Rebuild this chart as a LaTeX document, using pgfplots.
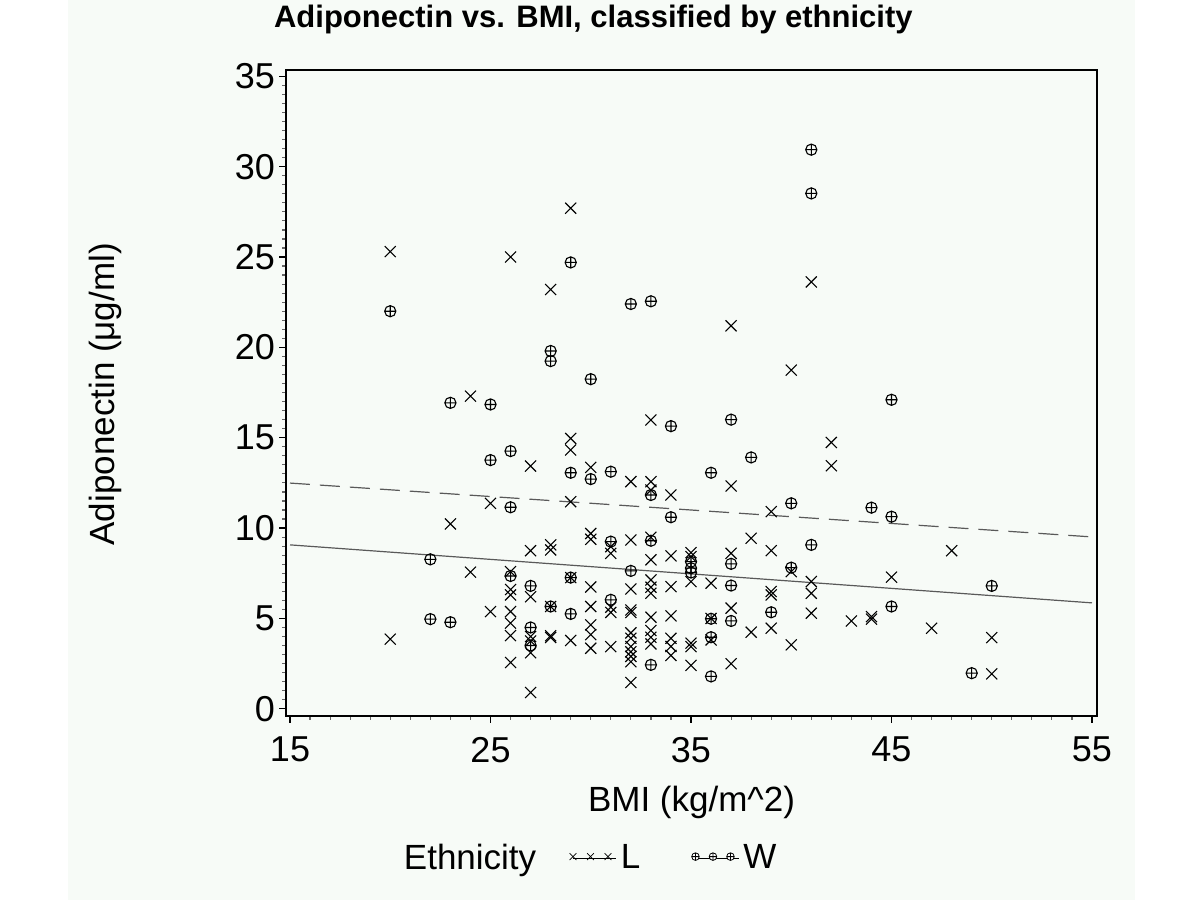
\documentclass[border=0pt]{standalone}
\usepackage{pgfplots}
\pgfplotsset{compat=1.18}
\usepackage{fontspec}
\setmainfont{Liberation Sans}
\definecolor{bgc}{RGB}{247,251,247}
\begin{document}
\begin{tikzpicture}
\path[use as bounding box] (0,0) rectangle (600pt,450pt);
\fill[white] (0,0) rectangle (600pt,450pt);
\fill[bgc] (34pt,0) rectangle (567.5pt,450pt);
\begin{axis}[
  at={(143pt,92pt)}, anchor=south west,
  scale only axis, width=405.5pt, height=323pt,
  xmin=14.8, xmax=55.25, ymin=-0.4, ymax=35.35,
  xtick={15,25,35,45,55}, ytick={0,5,10,15,20,25,30,35},
  minor x tick num=9, minor y tick num=9,
  tick pos=left, tick align=outside,
  major tick length=3.5pt, minor tick length=2pt,
  major tick style={black, line width=0.7pt},
  minor tick style={black!60, line width=0.6pt},
  axis line style={black, line width=1pt},
  /pgf/number format/assume math mode=true,
  ticklabel style={font=\fontsize{18}{21}\selectfont},
  xticklabel style={yshift=-3.5pt},
  yticklabel style={xshift=1.5pt},
  title={\textbf{Adiponectin vs. BMI, classified by ethnicity}},
  title style={font=\fontsize{15.5}{18}\selectfont, at={(0.379,1)}, anchor=base, yshift=15pt},
  xlabel={BMI (kg/m\textasciicircum 2)},
  xlabel style={font=\fontsize{17.5}{20}\selectfont, at={(0.5,0)}, anchor=base, yshift=-48pt},
  ylabel={Adiponectin (μg/ml)},
  ylabel style={font=\fontsize{17.5}{20}\selectfont, at={(-0.223,0.498)}, anchor=center},
  legend columns=3,
  legend style={draw=none, fill=none, at={(0.375,-0.22)}, anchor=center,
    font=\fontsize{17.5}{20}\selectfont,
    /tikz/every even column/.append style={column sep=14.5pt}},
]
\addlegendimage{empty legend}
\addlegendentry{Ethnicity}
\addlegendimage{legend image code/.code={\draw[black!70, line width=0.5pt] (0pt,0pt) -- (17.5pt,0pt);
  \path (0pt,0pt) -- (21.7pt,0pt);
  \foreach \xx in {0,8.75,17.5} {\node[inner sep=0pt] at (\xx pt,0pt) {\tikz\draw[black, line width=0.4pt] (-1.7pt,-1.7pt) -- (1.7pt,1.7pt) (-1.7pt,1.7pt) -- (1.7pt,-1.7pt);};}}}
\addlegendentry{L\rule{9pt}{0pt}}
\addlegendimage{legend image code/.code={\draw[black!70, line width=0.5pt] (0pt,0pt) -- (17.5pt,0pt);
  \path (0pt,0pt) -- (21.7pt,0pt);
  \foreach \xx in {0,8.75,17.5} {\node[inner sep=0pt] at (\xx pt,0pt) {\tikz\draw[black, line width=0.4pt, fill=white] (0,0) circle (1.9pt) (-1.9pt,0) -- (1.9pt,0) (0,-1.9pt) -- (0,1.9pt);};}}}
\addlegendentry{W}

% regression lines
\addplot[black!65, line width=0.6pt, forget plot] coordinates {(15,9.07) (55,5.86)};
\addplot[black!65, line width=0.6pt, dash pattern=on 10pt off 5pt, forget plot] coordinates {(15,12.49) (55,9.51)};

% Ethnicity L
\addplot[only marks, mark=x, mark size=3.9pt, mark options={black, line width=0.55pt}, forget plot] coordinates {
(20,25.3) (20,3.85)
(23,10.23)
(24,17.3) (24,7.56)
(25,11.37) (25,5.38)
(26,25.0) (26,7.59) (26,6.6) (26,6.3) (26,5.38) (26,4.74) (26,4.05) (26,2.56)
(27,13.43) (27,8.75) (27,6.2) (27,4.0) (27,3.75) (27,3.1) (27,0.9)
(28,23.2) (28,9.07) (28,8.79) (28,5.66) (28,4.04) (28,3.95)
(29,27.7) (29,14.96) (29,14.32) (29,11.46) (29,7.26) (29,3.78)
(30,13.36) (30,9.7) (30,9.38) (30,6.74) (30,5.66) (30,4.64) (30,4.1) (30,3.35)
(31,8.97) (31,8.6) (31,5.62) (31,5.33) (31,3.44)
(32,12.57) (32,9.34) (32,6.63) (32,5.47) (32,5.33) (32,4.2) (32,3.9) (32,3.45) (32,3.15) (32,2.9) (32,2.6) (32,1.45)
(33,15.98) (33,12.57) (33,12.1) (33,9.49) (33,8.24) (33,7.13) (33,6.73) (33,6.39) (33,5.07) (33,4.33) (33,3.96) (33,3.59)
(34,11.83) (34,8.46) (34,6.76) (34,5.14) (34,3.9) (34,3.45) (34,2.95)
(35,8.64) (35,8.42) (35,7.04) (35,3.63) (35,3.44) (35,2.4)
(36,6.95) (36,5.0) (36,3.81)
(37,21.19) (37,12.33) (37,8.6) (37,5.57) (37,2.49)
(38,9.44) (38,4.24)
(39,10.91) (39,8.75) (39,6.49) (39,6.3) (39,4.46)
(40,18.74) (40,7.59) (40,3.54)
(41,23.62) (41,7.04) (41,6.39) (41,5.29)
(42,14.74) (42,13.45)
(43,4.86)
(44,5.1) (44,4.96)
(45,7.28)
(47,4.46)
(48,8.75)
(50,3.94) (50,1.93)
};

% Ethnicity W
\addplot[only marks, mark=oplus, mark size=2.8pt, mark options={black, line width=0.55pt}, forget plot] coordinates {
(20,22.0) (22,8.27) (22,4.96) (23,16.93) (23,4.79)
(25,16.84) (25,13.76)
(26,14.26) (26,11.15) (26,7.35)
(27,6.8) (27,4.5) (27,3.5)
(28,19.8) (28,19.24) (28,5.66)
(29,24.7) (29,13.06) (29,7.26) (29,5.25)
(30,18.24) (30,12.71)
(31,13.12) (31,9.25) (31,6.03)
(32,22.4) (32,7.63)
(33,22.55) (33,11.83) (33,9.3) (33,2.43)
(34,15.64) (34,10.6)
(35,8.14) (35,7.78) (35,7.54)
(36,13.06) (36,4.98) (36,3.96) (36,1.79)
(37,16.0) (37,8.02) (37,6.82) (37,4.86)
(38,13.91)
(39,5.34)
(40,11.37) (40,7.81)
(41,30.94) (41,28.52) (41,9.07)
(44,11.13)
(45,17.1) (45,10.63) (45,5.66)
(49,1.97)
(50,6.8)
};
\end{axis}
\end{tikzpicture}
\end{document}
